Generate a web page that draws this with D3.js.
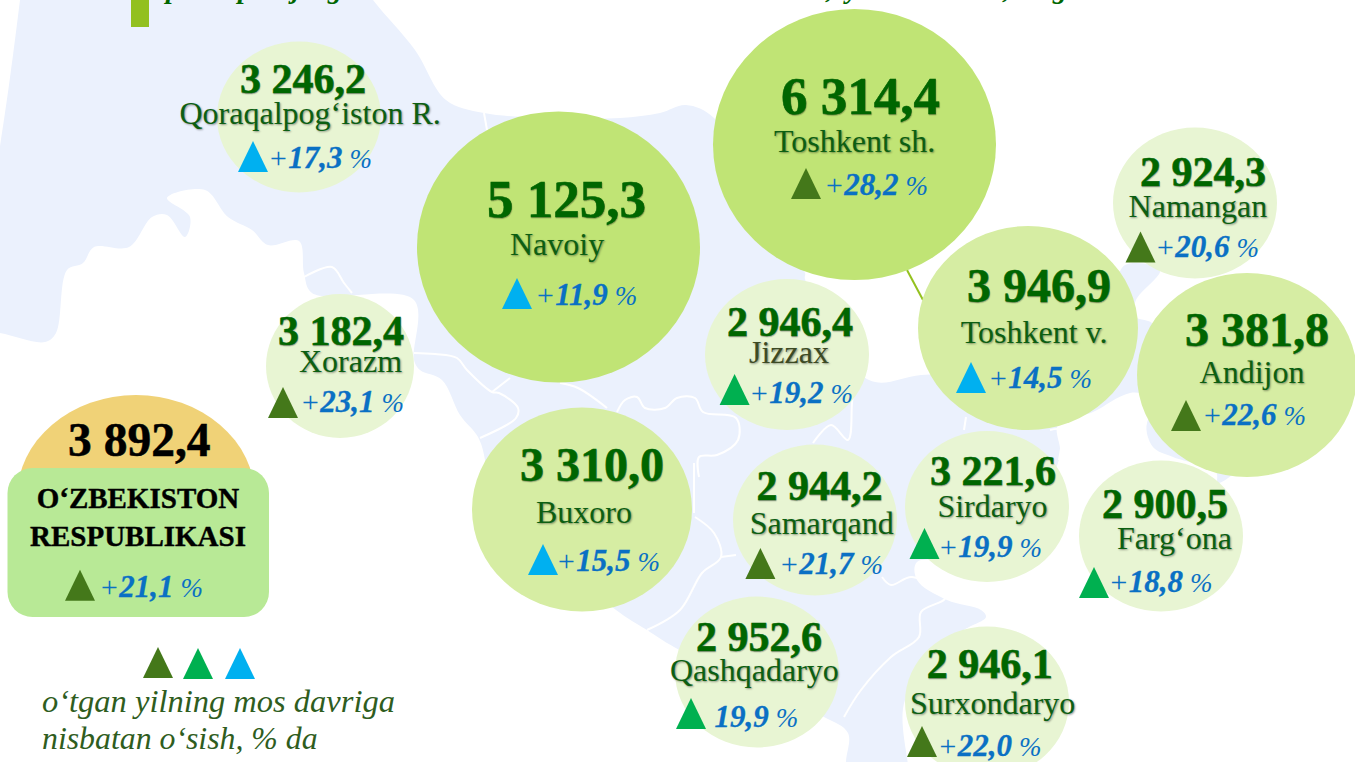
<!DOCTYPE html>
<html><head><meta charset="utf-8">
<script src="https://cdn.jsdelivr.net/npm/d3@7/dist/d3.min.js"></script>
<style>
html,body{margin:0;padding:0;background:#fff;overflow:hidden}
svg{display:block}
text{font-family:"Liberation Serif",serif}
.name{text-shadow:1px 1px 2px rgba(0,0,0,.4)}
.value{text-shadow:.5px .5px 1px rgba(0,0,0,.25);paint-order:stroke}
</style></head><body>
<script>
// ---- data ----
const regions = ["Qoraqalpog‘iston R.","Navoiy","Toshkent sh.","Namangan","Toshkent v.","Jizzax","Andijon","Xorazm","Buxoro","Samarqand","Sirdaryo","Farg‘ona","Qashqadaryo","Surxondaryo"];
const values  = [3246.2,5125.3,6314.4,2924.3,3946.9,2946.4,3381.8,3182.4,3310.0,2944.2,3221.6,2900.5,2952.6,2946.1];
const growth  = [17.3,11.9,28.2,20.6,14.5,19.2,22.6,23.1,15.5,21.7,19.9,18.8,19.9,22.0];
const plusSign= [1,1,1,1,1,1,1,1,1,1,1,1,0,1];
const nationalValue = 3892.4;
const nationalGrowth = 21.1;
const nationalTitle = ["O‘ZBEKISTON","RESPUBLIKASI"];
const legendLines = ["o‘tgan yilning mos davriga","nisbatan o‘sish, % da"];

// ---- layout of the map (one row per region, same order as above) ----
const layout = [
 {c:[299,117], v:[240,93],  n:[179.5,124],t:[238,172],p:[268,168]},
 {c:[558.5,247],v:[487,217],n:[510,255], t:[502,309],p:[535,305]},
 {c:[854.5,144.5],v:[781,114],n:[774,152],t:[791,199],p:[824,195]},
 {c:[1195,203],v:[1140,186],n:[1128.6,217],t:[1125.5,262.5],p:[1155,257]},
 {c:[1028,328],v:[967,302],n:[960.7,343],t:[956,393],p:[988,388]},
 {c:[787,354.5],v:[727,336],n:[749,363],t:[719.6,405],p:[749,403]},
 {c:[1247,375],v:[1185,346],n:[1199.6,383],t:[1171,431],p:[1202,425]},
 {c:[340,366],v:[278,345],n:[299,372],t:[268,418],p:[300,412]},
 {c:[582,509.5],v:[520,481],n:[536,523],t:[528,575],p:[556,571]},
 {c:[815,520],v:[756.6,500],n:[749.7,534],t:[745.4,579],p:[779,574]},
 {c:[987,506.5],v:[930,485],n:[937.4,517],t:[909.5,559],p:[938,557]},
 {c:[1161,536],v:[1102,518],n:[1117,549],t:[1079,598],p:[1108.5,592]},
 {c:[757,672],v:[696,651],n:[670,681],t:[676,729],p:[714.4,727]},
 {c:[987,702],v:[926.7,678],n:[910,714],t:[907,757],p:[937.6,755.6]}
];
const triColor = {dark:"#44781a",green:"#00b050",blue:"#00b0f0"};
const triKey = g => g < 18 ? "blue" : g < 20 ? "green" : "dark";

const W=1355,H=762;
const svg=d3.select("body").append("svg").attr("width",W).attr("height",H);

// ---- background map ----
const mapOutline=[[24,-40],[345,-40],[373,0],[415,50],[446,100],[484,113],[560,118],[620,118],[660,113],[686,105],[714,118],[760,200],[805,273],[805,279],[869,380],[921,375],[1000,370],[1100,330],[1112,300],[1125,265],[1160,270],[1136,300],[1134,316],[1152,323],[1170,350],[1170,395],[1130,393],[1093,412],[1058,425],[1060,455],[1040,500],[1000,560],[917,562],[917,580],[947,600],[981,610],[986,617],[960,633],[905,700],[905,800],[846,800],[846,762],[848,733],[824,717],[760,690],[674,647],[647,630],[616,610],[560,560],[487,500],[485,460],[478,437],[460,415],[442,380],[420,370],[414,360],[414,300],[312,293],[304,273],[299,241],[268,245],[252,230],[228,217],[205,190],[167,198],[190,217],[185,237],[167,215],[152,217],[129,247],[94,247],[83,263],[67,270],[56,333],[45,342],[0,333],[-40,326],[-40,300],[-10,200],[20,0]];
const ferghana=[[1170,400],[1147,423],[1153,447],[1173,457],[1216,472],[1218,483],[1260,440]];
const smooth=d3.line().curve(d3.curveCatmullRom.alpha(0.5));
const smoothClosed=d3.line().curve(d3.curveCatmullRomClosed.alpha(0.5));
svg.append("path").attr("d",smoothClosed(mapOutline)).attr("fill","#ebf1fd");
svg.append("path").attr("d",smoothClosed(ferghana)).attr("fill","#ebf1fd");
const borders=[
 [[484,113],[487,130]],
 [[304,277],[332,267],[344,283],[352,293]],
 [[414,353],[435,354],[457,358],[467,370],[492,392],[499,393],[518,408],[516,418],[480,438]],
 [[492,392],[510,378]],
 [[560,383],[578,388],[607,408]],
 [[617,412],[625,400],[637,397],[645,408],[665,408],[677,398],[695,398],[703,412],[736,418],[738,440],[717,455],[699,457],[699,477]],
 [[813,443],[831,425],[848,440],[852,403],[854,380]],
 [[964,430],[966,417]],
 [[1050,430],[1061,430],[1059,460]],
 [[695,517],[714,533],[721,557],[702,573],[680,610],[647,630]],
 [[721,557],[736,555]],
 [[882,577],[891,585],[912,577],[945,598],[921,612],[919,637],[891,657],[861,690],[844,717]],
 [[694,463],[694,513]]
];
svg.append("g").selectAll("path").data(borders).join("path")
 .attr("d",smooth).attr("fill","none").attr("stroke","#fff").attr("stroke-width",2);

// ---- header fragments clipped by the crop ----
svg.append("rect").attr("x",131).attr("y",-5).attr("width",18).attr("height",32).attr("fill","#92c020");
const headerGlyphs=[["p",166],["p",238],["j",292],["g",328],[",",826],["y",846],[",",1003],["g",1053]];
svg.append("g").selectAll("text").data(headerGlyphs).join("text")
 .attr("x",d=>d[1]).attr("y",-2).attr("font-size",28).attr("font-style","italic").attr("font-weight","bold").attr("fill","#006600").text(d=>d[0]);

// connector
svg.append("line").attr("x1",907).attr("y1",270).attr("x2",923).attr("y2",300).attr("stroke","#94c11f").attr("stroke-width",2);

// ---- scales ----
const rx=d3.scaleThreshold().domain([3300,5000]).range([82,110,141.5]);
const ry=d3.scaleThreshold().domain([3300,5000]).range([75.5,102,135.5]);
const fill=d3.scaleThreshold().domain([3300,5000]).range(["#e8f5d3","#d6eda3","#c0e475"]);
const valueSize=d3.scaleThreshold().domain([3300,5000]).range([42,48,53]);
const fmt=v=>{const [a,b]=v.toFixed(1).split(".");return a.slice(0,-3)+" "+a.slice(-3)+","+b;};
const tri=(x,y)=>d3.line()([[x,y],[x+15,y-31],[x+30,y]])+"Z";

const pct=(sel,g,plus,size)=>{
  const s=g.toFixed(1).replace(".",",");
  if(plus) sel.append("tspan").attr("font-style","italic").text("+");
  sel.append("tspan").attr("font-weight","bold").attr("font-style","italic").attr("font-size",size+1).attr("stroke","#0a70c4").attr("stroke-width",.3).text(s);
  sel.append("tspan").attr("font-style","italic").attr("font-size",size*0.9).attr("dx",7).text("%");
};

const rows=regions.map((name,i)=>({name,v:values[i],g:growth[i],plus:plusSign[i],l:layout[i]}));
const nodes=svg.append("g").selectAll("g").data(rows).join("g");
nodes.append("ellipse")
 .attr("cx",d=>d.l.c[0]).attr("cy",d=>d.l.c[1])
 .attr("rx",d=>d.name==="Xorazm"?74:rx(d.v)).attr("ry",d=>d.name==="Xorazm"?72:ry(d.v))
 .attr("fill",d=>fill(d.v));
const labels=svg.append("g").selectAll("g").data(rows).join("g");
labels.append("text").attr("class","value")
 .attr("x",d=>d.l.v[0]).attr("y",d=>d.l.v[1])
 .attr("font-size",d=>valueSize(d.v)).attr("font-weight","bold").attr("fill","#006600")
 .attr("stroke","#006600").attr("stroke-width",.5)
 .text(d=>fmt(d.v));
labels.append("text").attr("class","name")
 .attr("x",d=>d.l.n[0]).attr("y",d=>d.l.n[1])
 .attr("font-size",32).attr("fill",d=>d.name==="Jizzax"?"#3d4a24":"#0c5f12")
 .text(d=>d.name);
labels.append("path").attr("d",d=>tri(d.l.t[0],d.l.t[1])).attr("fill",d=>triColor[triKey(d.g)]);
labels.append("text").attr("x",d=>d.l.p[0]).attr("y",d=>d.l.p[1])
 .attr("font-size",30).attr("fill","#0a70c4")
 .each(function(d){pct(d3.select(this),d.g,d.plus,30);});

// ---- national card ----
svg.append("ellipse").attr("cx",136).attr("cy",497).attr("rx",119).attr("ry",102).attr("fill","#f0d277");
svg.append("rect").attr("x",7.5).attr("y",468).attr("width",261.5).attr("height",149).attr("rx",25).attr("fill","#b8e996");
svg.append("text").attr("x",68).attr("y",456).attr("font-size",47.5).attr("font-weight","bold").attr("fill","#000").attr("stroke","#000").attr("stroke-width",.5).text(fmt(nationalValue));
svg.append("g").selectAll("text").data(nationalTitle).join("text")
 .attr("x",138).attr("y",(d,i)=>508+i*38).attr("text-anchor","middle")
 .attr("font-size",29).attr("font-weight","bold").attr("fill","#000").attr("stroke","#000").attr("stroke-width",.4).text(d=>d);
svg.append("path").attr("d",tri(65,600.7)).attr("fill",triColor.dark);
pct(svg.append("text").attr("x",99).attr("y",597).attr("font-size",30).attr("fill","#0a70c4"),nationalGrowth,1,30);

// ---- legend ----
svg.append("g").selectAll("path").data(["dark","green","blue"]).join("path")
 .attr("d",(d,i)=>tri([143,183,225][i],[678,679,679][i])).attr("fill",d=>triColor[d]);
svg.append("g").selectAll("text").data(legendLines).join("text")
 .attr("x",42).attr("y",(d,i)=>712+i*37).attr("font-size",(d,i)=>i?31.8:32.5).attr("font-style","italic").attr("fill","#2f5d1e").text(d=>d);
</script></body></html>
